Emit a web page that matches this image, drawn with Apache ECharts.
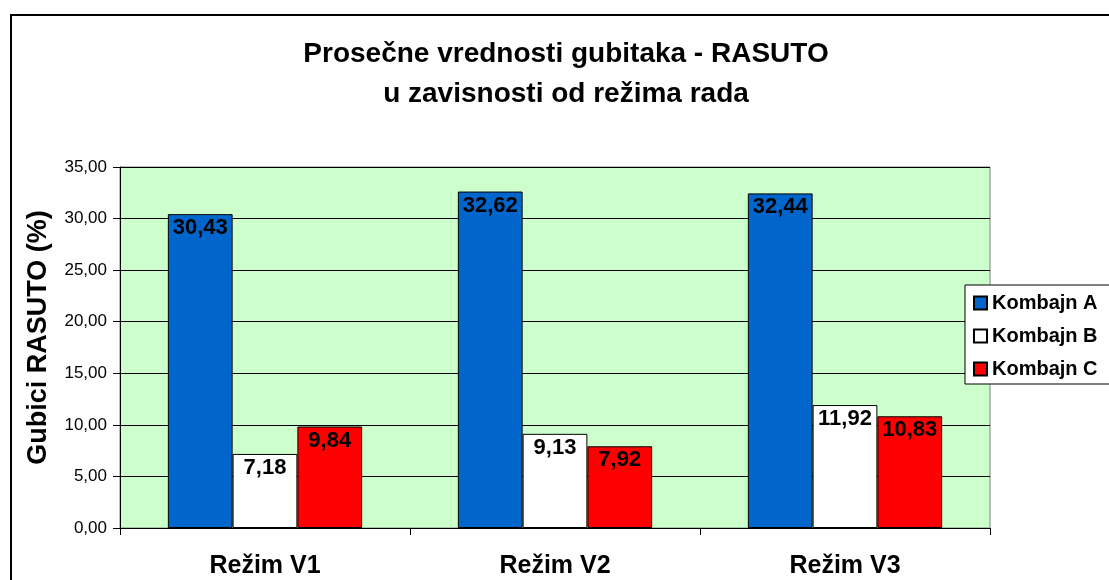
<!DOCTYPE html>
<html>
<head>
<meta charset="UTF-8"/>
<title>Prosečne vrednosti gubitaka - RASUTO</title>
<script src="https://cdn.jsdelivr.net/npm/echarts@6/dist/echarts.min.js"></script>
<style>
html, body { margin: 0; padding: 0; background: #fff; }
#placeholder { width: 1109px; height: 580px; }
</style>
</head>
<body>
<div id="placeholder"></div>
<script type="text/javascript">
// podaci sa grafika
var categories = ['Režim V1', 'Režim V2', 'Režim V3'];
var seriesNames = ['Kombajn A', 'Kombajn B', 'Kombajn C'];
var kombajnA = [30.43, 32.62, 32.44];
var kombajnB = [7.18, 9.13, 11.92];
var kombajnC = [9.84, 7.92, 10.83];
var colors = ['#0066CC', '#FFFFFF', '#FF0000'];

var FONT = 'Liberation Sans, Arial, Helvetica, sans-serif';

function comma(v) {
    return Number(v).toFixed(2).replace('.', ',');
}

function bar(name, data, color) {
    return {
        name: name,
        type: 'bar',
        data: data,
        barGap: '0%',
        barCategoryGap: '33%',
        itemStyle: { color: color, borderColor: '#000', borderWidth: 1 },
        label: {
            show: true,
            position: 'insideTop',
            distance: 3,
            color: '#000',
            fontFamily: FONT,
            fontWeight: 'bold',
            fontSize: 22,
            formatter: function (p) { return comma(p.value); }
        }
    };
}

var myChart = echarts.init(document.getElementById('placeholder'));
var option = {
    animation: false,
    backgroundColor: '#fff',
    title: {
        text: 'Prosečne vrednosti gubitaka - RASUTO\nu zavisnosti od režima rada',
        left: 561,
        top: 29,
        textAlign: 'center',
        textStyle: {
            fontFamily: FONT,
            fontWeight: 'bold',
            fontSize: 28,
            lineHeight: 40,
            color: '#000'
        }
    },
    legend: {
        data: seriesNames,
        orient: 'vertical',
        left: 965,
        top: 285,
        padding: [8, 20, 5, 8],
        itemWidth: 13,
        itemHeight: 13,
        itemGap: 13,
        icon: 'rect',
        backgroundColor: '#fff',
        borderColor: '#000',
        borderWidth: 1,
        textStyle: {
            fontFamily: FONT,
            fontWeight: 'bold',
            fontSize: 20,
            color: '#000'
        }
    },
    grid: {
        left: 120,
        right: 119,
        top: 167,
        bottom: 52,
        show: true,
        backgroundColor: '#CCFFCC',
        borderColor: '#808080',
        borderWidth: 1
    },
    xAxis: {
        type: 'category',
        data: categories,
        axisLine: { lineStyle: { color: '#000', width: 1 } },
        axisTick: { show: true, length: 7, lineStyle: { color: '#000' } },
        axisLabel: {
            margin: 26,
            color: '#000',
            fontFamily: FONT,
            fontWeight: 'bold',
            fontSize: 25
        }
    },
    yAxis: {
        type: 'value',
        min: 0,
        max: 35,
        interval: 5,
        name: 'Gubici RASUTO (%)',
        nameLocation: 'middle',
        nameGap: 68,
        nameTextStyle: {
            fontFamily: FONT,
            fontWeight: 'bold',
            fontSize: 27,
            color: '#000',
            padding: [0, 0, 0, 20]
        },
        axisLine: { show: true, lineStyle: { color: '#000', width: 1 } },
        axisTick: { show: true, length: 7, lineStyle: { color: '#000' } },
        axisLabel: {
            margin: 13,
            color: '#000',
            fontFamily: FONT,
            fontSize: 17,
            formatter: function (v) { return comma(v); }
        },
        splitLine: { show: true, lineStyle: { color: '#000', width: 1 } }
    },
    graphic: [{
        type: 'rect',
        shape: { x: 11, y: 15, width: 1300, height: 800 },
        style: { fill: 'none', stroke: '#000', lineWidth: 2 },
        silent: true,
        z: 100
    }],
    series: [
        bar(seriesNames[0], kombajnA, colors[0]),
        bar(seriesNames[1], kombajnB, colors[1]),
        bar(seriesNames[2], kombajnC, colors[2])
    ]
};
myChart.setOption(option, true);
</script>
</body>
</html>
